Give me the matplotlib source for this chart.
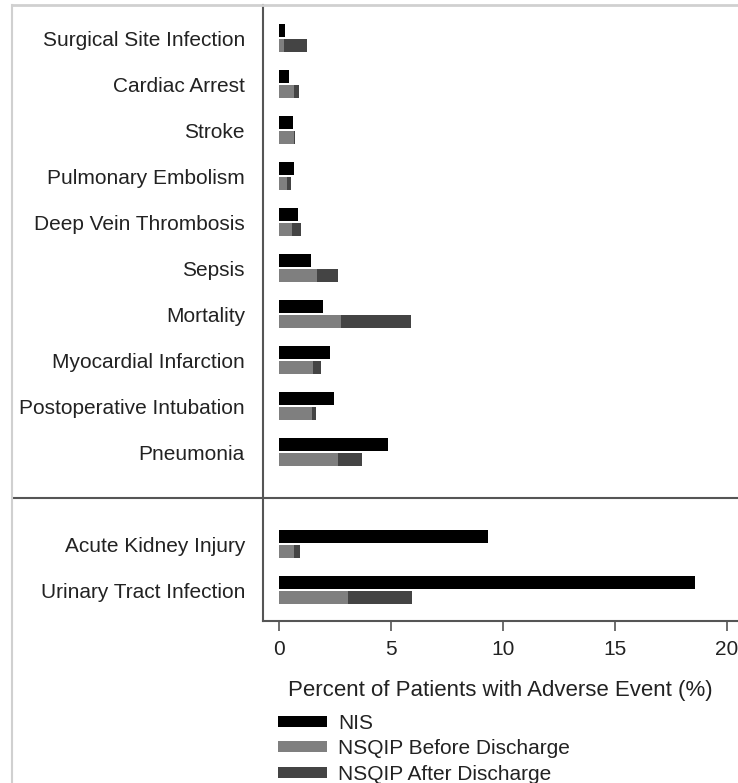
import matplotlib
matplotlib.use("Agg")
import matplotlib.pyplot as plt
from matplotlib.patches import Patch
from matplotlib.lines import Line2D

plt.rcParams["font.family"] = ["Liberation Sans", "DejaVu Sans"]

# slot 10 stays empty: the divider line sits there
categories = [
    "Surgical Site Infection", "Cardiac Arrest", "Stroke",
    "Pulmonary Embolism", "Deep Vein Thrombosis", "Sepsis", "Mortality",
    "Myocardial Infarction", "Postoperative Intubation", "Pneumonia",
    "Acute Kidney Injury", "Urinary Tract Infection",
]
slots = [0, 1, 2, 3, 4, 5, 6, 7, 8, 9, 11, 12]
divider_slot = 10

nis = [0.27, 0.46, 0.62, 0.65, 0.83, 1.43, 1.96, 2.28, 2.46, 4.88, 9.36, 18.6]
nsqip_before = [0.22, 0.68, 0.68, 0.37, 0.60, 1.71, 2.77, 1.53, 1.46, 2.65, 0.68, 3.10]
nsqip_total = [1.26, 0.91, 0.70, 0.55, 1.00, 2.62, 5.89, 1.88, 1.64, 3.72, 0.94, 5.94]

series_labels = ["NIS", "NSQIP Before Discharge", "NSQIP After Discharge"]
colors = ["#000000", "#7f7f7f", "#444444"]
x_ticks = [0, 5, 10, 15, 20]


def main():
    fig = plt.figure(figsize=(7.38, 7.83), dpi=100)
    ax = fig.add_axes([263 / 738, 1 - 621 / 783, 475 / 738, 616 / 783])

    h = 0.28
    off = 0.165
    after = [t - b for t, b in zip(nsqip_total, nsqip_before)]
    y_nis = [s - off for s in slots]
    y_nsq = [s + off for s in slots]

    ax.barh(y_nis, nis, height=h, color=colors[0])
    ax.barh(y_nsq, nsqip_before, height=h, color=colors[1])
    ax.barh(y_nsq, after, left=nsqip_before, height=h, color=colors[2])

    ax.set_xlim(-0.715, 20.51)
    ax.set_ylim(12.67, -0.72)

    ax.set_yticks(slots)
    ax.set_yticklabels(categories, fontsize=15, color="#222222")
    ax.tick_params(axis="y", length=0, pad=13)

    ax.set_xticks(x_ticks)
    ax.set_xticklabels([str(t) for t in x_ticks], fontsize=15, color="#222222")
    ax.tick_params(axis="x", length=7, width=1.2, color="#555555", pad=7)
    ax.set_xlabel("Percent of Patients with Adverse Event (%)",
                  fontsize=16, color="#222222", labelpad=15)

    for side in ["top", "right"]:
        ax.spines[side].set_visible(False)
    for side in ["left", "bottom"]:
        ax.spines[side].set_color("#555555")
        ax.spines[side].set_linewidth(1.5)

    # line separating the two groups, running into the label area
    ax.axhline(divider_slot, xmin=-0.524, xmax=1, color="#555555",
               lw=1.5, clip_on=False)

    # light frame of the original figure
    fig.add_artist(Line2D([12 / 738, 12 / 738], [0, 1 - 5 / 783],
                          color="#d0d0d0", lw=1.5))
    fig.add_artist(Line2D([12 / 738, 1], [1 - 5 / 783, 1 - 5 / 783],
                          color="#d0d0d0", lw=2))

    handles = [Patch(facecolor=c, edgecolor="none") for c in colors]
    leg = fig.legend(handles, series_labels, loc="upper left",
                     bbox_to_anchor=(276 / 738, 1 - 712 / 783),
                     frameon=False, fontsize=15, handlelength=2.35,
                     handleheight=0.43, labelspacing=0.3, handletextpad=0.55,
                     borderaxespad=0, borderpad=0.1)
    for t in leg.get_texts():
        t.set_color("#222222")

    fig.savefig("out.png", dpi=100)


if __name__ == "__main__":
    main()
